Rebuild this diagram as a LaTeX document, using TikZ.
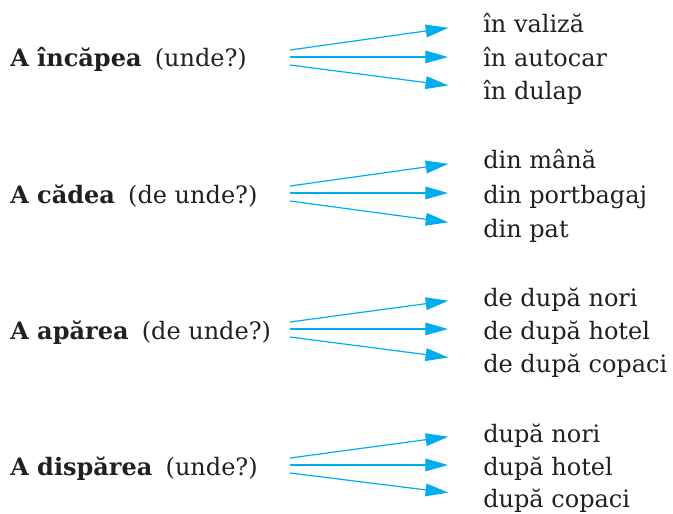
\documentclass[tikz,border=0pt]{standalone}
\usepackage{fontspec}
\setmainfont{DejaVu Serif}
\usetikzlibrary{arrows.meta}
\definecolor{sky}{RGB}{0, 174, 239}
\definecolor{ink}{RGB}{35, 31, 32}

\begin{document}
\begin{tikzpicture}[x=0.75pt, y=-0.75pt,
    verb/.style={anchor=west, inner sep=0pt, text height=15pt, text depth=0pt, color=ink, font=\fontsize{18}{20}\selectfont},
    place/.style={anchor=west, inner sep=0pt, text height=15pt, text depth=0pt, color=ink, font=\fontsize{18}{20}\selectfont},
    link/.style={draw=sky, line width=0.9pt, shorten >=26.25pt, -{Triangle[length=17pt, width=9.5pt]}}]
  
  \useasboundingbox (0, 0) rectangle (673, 513);
  
  % a incapea
  \node[verb] (v1) at (10, 57) {\textbf{A încăpea}\hspace{0.55em}(unde?)};
  \node[place] (r1a) at (483, 23) {în valiză};
  \node[place] (r1b) at (483, 57) {în autocar};
  \node[place] (r1c) at (483, 90) {în dulap};
  \coordinate (s1a) at (290, 50);
  \coordinate (s1b) at (290, 57);
  \coordinate (s1c) at (290, 65);
  \draw[link] (s1a) -- (r1a.west);
  \draw[link] (s1b) -- (r1b.west);
  \draw[link] (s1c) -- (r1c.west);
  
  % a cadea
  \node[verb] (v2) at (10, 193) {\textbf{A cădea}\hspace{0.55em}(de unde?)};
  \node[place] (r2a) at (483, 159) {din mână};
  \node[place] (r2b) at (483, 193) {din portbagaj};
  \node[place] (r2c) at (483, 227) {din pat};
  \coordinate (s2a) at (290, 186);
  \coordinate (s2b) at (290, 193);
  \coordinate (s2c) at (290, 201);
  \draw[link] (s2a) -- (r2a.west);
  \draw[link] (s2b) -- (r2b.west);
  \draw[link] (s2c) -- (r2c.west);
  
  % a aparea
  \node[verb] (v3) at (10, 329) {\textbf{A apărea}\hspace{0.55em}(de unde?)};
  \node[place] (r3a) at (483, 296) {de după nori};
  \node[place] (r3b) at (483, 329) {de după hotel};
  \node[place] (r3c) at (483, 362) {de după copaci};
  \coordinate (s3a) at (290, 322);
  \coordinate (s3b) at (290, 329);
  \coordinate (s3c) at (290, 337);
  \draw[link] (s3a) -- (r3a.west);
  \draw[link] (s3b) -- (r3b.west);
  \draw[link] (s3c) -- (r3c.west);
  
  % a disparea
  \node[verb] (v4) at (10, 465) {\textbf{A dispărea}\hspace{0.55em}(unde?)};
  \node[place] (r4a) at (483, 432) {după nori};
  \node[place] (r4b) at (483, 465) {după hotel};
  \node[place] (r4c) at (483, 497) {după copaci};
  \coordinate (s4a) at (290, 458);
  \coordinate (s4b) at (290, 465);
  \coordinate (s4c) at (290, 473);
  \draw[link] (s4a) -- (r4a.west);
  \draw[link] (s4b) -- (r4b.west);
  \draw[link] (s4c) -- (r4c.west);
  
\end{tikzpicture}
\end{document}
